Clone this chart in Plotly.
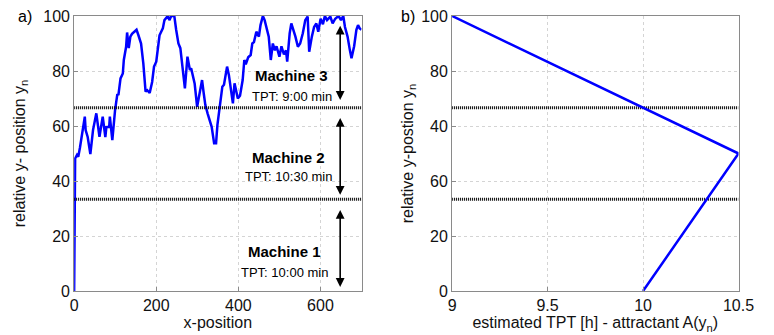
import plotly.graph_objects as go

# ---- data ----
x_pos = [0, 1, 2.4, 7, 10, 14, 18, 26, 28, 33,
         39.5, 46, 54, 58, 61.7, 69.6, 73, 76, 78.5, 85.4,
         87, 93, 99.7, 105, 108, 113, 118.6, 121, 126.6, 129,
         133, 137, 141, 148.7, 152, 156.6, 163, 168.5, 174, 178,
         184, 190, 194.6, 200, 204, 208, 216, 220, 228, 232,
         236.6, 244, 248.5, 254, 258.7, 264, 269.8, 276, 282, 285,
         293.5, 299.6, 306, 311.6, 315.6, 319.6, 325, 331.5, 335, 341,
         345.7, 349, 355, 361, 365, 372.5, 377, 382.8, 386.7, 390.7,
         394.7, 398.7, 404, 410.5, 414.5, 418, 424, 430, 434, 438,
         443.8, 450, 454, 459.7, 464, 468, 474, 479, 484, 489,
         493, 500, 505, 511, 516, 519, 525, 529, 533, 539,
         545, 550.5, 557, 563, 568.8, 572.6, 579, 584.5, 590, 594.6,
         600.4, 606, 610.7, 616, 624, 629.6, 636, 644, 650, 655.6,
         659.7, 666, 671.6, 675.6, 682, 687.5, 691.5, 695.5, 700]
y_pos = [0, 45, 48.2, 49.5, 48.8, 52, 55.5, 63.4, 58.5, 56,
         49.8, 58.5, 64.6, 60, 56.1, 63.4, 60, 56, 59.6, 59.7,
         63.4, 54.9, 65.8, 71.3, 71.5, 77.3, 79.1, 84, 88.8, 94,
         88.3, 92.5, 93.5, 94.7, 95, 93, 90, 82.8, 72.5, 73,
         72, 76, 81.6, 83.4, 88.8, 93, 95.5, 98.5, 100, 98.5,
         100, 100, 95, 90, 88.3, 80.4, 73.7, 85.2, 80.4, 81,
         75.5, 67, 71.9, 76.7, 71.9, 67.6, 64.6, 61.6, 59.7, 53.7,
         53.7, 60.4, 68.2, 74.3, 75, 81.6, 78.5, 73, 68.2, 75.5,
         72, 70, 71, 76.7, 84, 82.4, 85, 85.8, 90, 90.5,
         94.3, 92.5, 96.7, 100, 98.5, 96, 92.5, 84, 90, 87.5,
         89, 85.2, 89, 86, 87.5, 83.4, 93.7, 97.3, 95.5, 92.5,
         88.8, 90, 93.7, 98.5, 99.8, 87, 92.5, 96, 97.3, 94.3,
         99, 97, 100, 98.5, 99.8, 97.3, 99, 100, 98.5, 100,
         96, 92.5, 87.6, 84.6, 89, 95, 96.7, 95.5, 95]

attr_tpt = [10.0, 10.5, 9.0]
attr_y = [0, 50, 100]

boundaries = [100 / 3, 200 / 3]

machine_names = ["Machine 1", "Machine 2", "Machine 3"]
machine_tpt = ["TPT: 10:00 min", "TPT: 10:30 min", "TPT: 9:00 min"]
machine_name_y = [14.5, 48.7, 78.2]
machine_tpt_y = [6.9, 41.5, 70.9]
machine_label_x = [512, 522, 530]
machine_arrow_lo = [1.5, 35, 69.5]
machine_arrow_hi = [30, 63.5, 97]
arrow_x = 648

left_yticks = [0, 20, 40, 60, 80, 100]
right_yticks = [0, 20, 40, 60, 80, 100]
right_yticktext = ["0", "20", "60", "40", "80", "100"]
left_xticks = [0, 200, 400, 600]
right_xticks = [9, 9.5, 10, 10.5]
right_xticktext = ["9", "9.5", "10", "10.5"]

FONT = "Liberation Sans, Arial, sans-serif"

fig = go.Figure()

fig.add_trace(go.Scatter(x=x_pos, y=y_pos, mode="lines",
                         line=dict(color="#0000FF", width=2.5),
                         xaxis="x", yaxis="y", showlegend=False))
for b in boundaries:
    fig.add_trace(go.Scatter(x=[0, 700], y=[b, b], mode="lines",
                             line=dict(color="black", width=3, dash="1px,1px"),
                             xaxis="x", yaxis="y", showlegend=False))
    fig.add_trace(go.Scatter(x=[9, 10.5], y=[b, b], mode="lines",
                             line=dict(color="black", width=3, dash="1px,1px"),
                             xaxis="x2", yaxis="y2", showlegend=False))
fig.add_trace(go.Scatter(x=attr_tpt, y=attr_y, mode="lines",
                         line=dict(color="#0000FF", width=2.5),
                         xaxis="x2", yaxis="y2", showlegend=False))

annotations = []
for name, tpt, ny, ty, lx, lo, hi in zip(machine_names, machine_tpt, machine_name_y,
                                         machine_tpt_y, machine_label_x,
                                         machine_arrow_lo, machine_arrow_hi):
    annotations.append(dict(x=lx, y=ny, xref="x", yref="y", text="<b>%s</b>" % name,
                            showarrow=False, font=dict(size=15, color="black", family=FONT)))
    annotations.append(dict(x=lx, y=ty, xref="x", yref="y", text=tpt,
                            showarrow=False, font=dict(size=13, color="black", family=FONT)))
    annotations.append(dict(x=arrow_x, y=lo, ax=arrow_x, ay=hi, xref="x", yref="y",
                            axref="x", ayref="y", text="", showarrow=True,
                            arrowhead=2, startarrowhead=2, arrowside="end+start",
                            arrowsize=1.1, startarrowsize=1.1, arrowwidth=1.6,
                            arrowcolor="black"))

annotations.append(dict(x=12 / 774, y=1, xref="paper", yref="paper", text="a)", showarrow=False,
                        xanchor="left", yanchor="middle",
                        font=dict(size=16, color="black", family=FONT)))
annotations.append(dict(x=405 / 774, y=1, xref="paper", yref="paper", text="b)", showarrow=False,
                        xanchor="left", yanchor="middle",
                        font=dict(size=16, color="black", family=FONT)))

axis_common = dict(showline=True, linecolor="#8a8a8a", linewidth=1, mirror=True,
                   ticks="inside", ticklen=4, tickcolor="#8a8a8a",
                   showgrid=True, gridcolor="#d4d4d4", griddash="dot", gridwidth=1,
                   zeroline=False, tickfont=dict(size=16, color="#111", family=FONT),
                   title_font=dict(size=16, color="#111", family=FONT))

fig.update_layout(
    width=774, height=335,
    margin=dict(l=0, r=0, t=16, b=44),
    paper_bgcolor="white", plot_bgcolor="white",
    font=dict(family=FONT, color="black"),
    annotations=annotations,
    xaxis=dict(domain=[72 / 774, 367 / 774], range=[0, 700], tickvals=left_xticks,
               title=dict(text="x-position", standoff=2), anchor="y", **axis_common),
    yaxis=dict(domain=[0, 1], range=[0, 100], tickvals=left_yticks,
               title=dict(text="relative y- position y<sub>n</sub>", standoff=13),
               anchor="x", **axis_common),
    xaxis2=dict(domain=[460 / 774, 754 / 774], range=[9, 10.5], tickvals=right_xticks,
                ticktext=right_xticktext,
                title=dict(text="estimated TPT [h] - attractant A(y<sub>n</sub>)", standoff=2),
                anchor="y2", **axis_common),
    yaxis2=dict(domain=[0, 1], range=[0, 100], tickvals=right_yticks, ticktext=right_yticktext,
                title=dict(text="relative y-postion y<sub>n</sub>", standoff=3),
                anchor="x2", **axis_common),
)

fig.write_html("out.html")
